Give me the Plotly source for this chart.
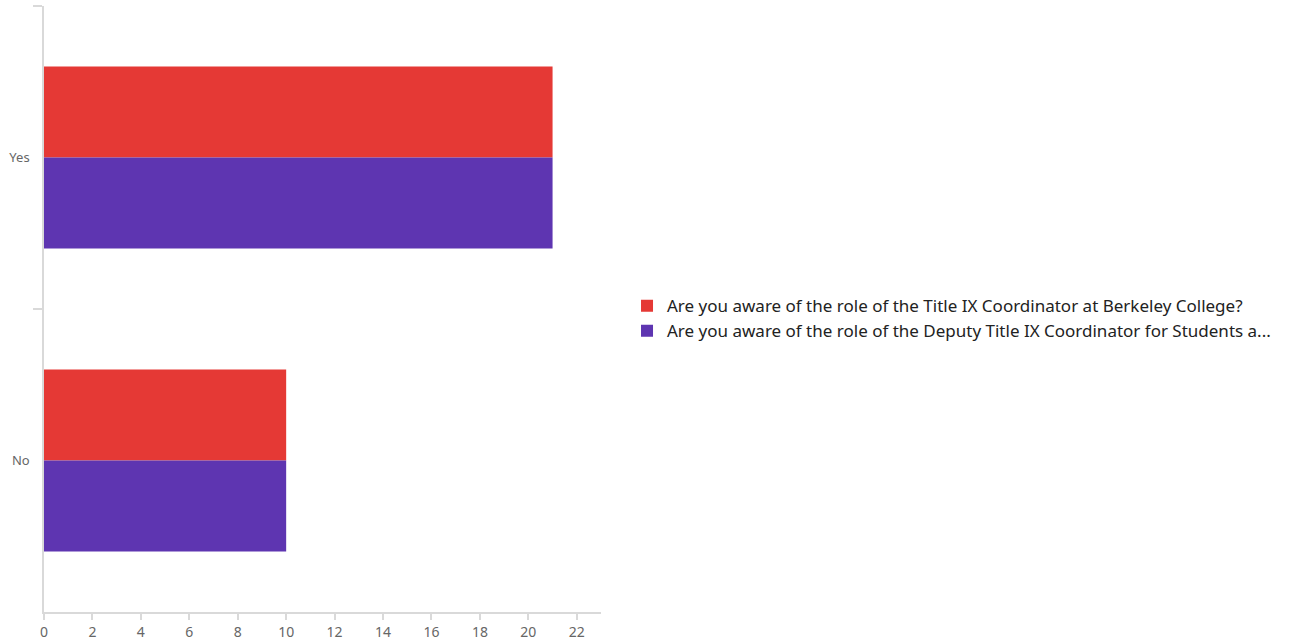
import plotly.graph_objects as go

categories = ["Yes", "No"]
series_names = [
    "Are you aware of the role of the Title IX Coordinator at Berkeley College?",
    "Are you aware of the role of the Deputy Title IX Coordinator for Students a...",
]
series_values = [
    [21, 10],
    [21, 10],
]
colors = ["#E53935", "#5E35B1"]
x_ticks = [0, 2, 4, 6, 8, 10, 12, 14, 16, 18, 20, 22]

fig = go.Figure()
for name, vals, c in zip(series_names, series_values, colors):
    fig.add_trace(go.Bar(
        y=categories, x=vals, name=name, orientation="h",
        marker=dict(color=c, line=dict(width=0)),
        hoverinfo="x+y",
    ))

fig.update_layout(
    width=1289, height=643,
    margin=dict(l=44, r=688, t=6, b=31, autoexpand=False),
    plot_bgcolor="white", paper_bgcolor="white",
    barmode="group", bargap=0.4, bargroupgap=0,
    font=dict(family="Noto Sans", color="#666666", size=13),
    showlegend=True,
    legend=dict(
        x=1.0467, xanchor="left", y=0.484, yanchor="middle",
        font=dict(size=17, color="#222222"),
        traceorder="normal", itemwidth=30,
        bgcolor="rgba(0,0,0,0)",
    ),
    xaxis=dict(
        range=[0, 23], tickvals=x_ticks, showgrid=False, zeroline=False,
        showline=True, linecolor="#d9d9d9", linewidth=1.5,
        ticks="outside", ticklen=6, tickcolor="#d9d9d9", tickwidth=1.5,
        tickfont=dict(size=14, color="#666666"),
    ),
    yaxis=dict(
        autorange="reversed", showgrid=False, zeroline=False,
        showline=True, linecolor="#d9d9d9", linewidth=1.5,
        ticks="outside", ticklen=9, tickcolor="#d9d9d9", tickwidth=1.5,
        tickson="boundaries", ticklabelstandoff=10,
        tickfont=dict(size=13, color="#666666"),
    ),
)

fig.write_html("out.html", config={"displayModeBar": False},
               post_script="document.body.style.margin='0';")
